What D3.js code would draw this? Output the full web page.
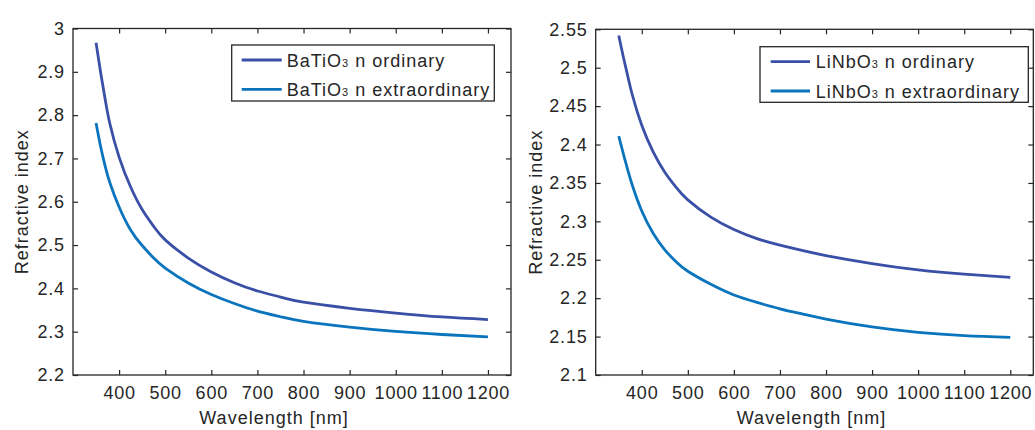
<!DOCTYPE html>
<html>
<head>
<meta charset="utf-8">
<script src="https://cdn.jsdelivr.net/npm/d3@7"></script>
<style>
  html, body { margin: 0; padding: 0; background: #fff; }
  svg { display: block; font-family: "Liberation Sans", Arial, Helvetica, sans-serif; }
  .axis text { font-size: 18px; fill: #262626; letter-spacing: 0.8px; }
  .axis line { stroke: #262626; stroke-width: 1.2; }
  .axis path { display: none; }
  .title, .legend-text { letter-spacing: 1px; }
</style>
</head>
<body>
<svg id="chart" width="1035" height="430"></svg>
<script>
// Wavelengths (nm) at which the refractive indices are tabulated
const wavelengths = [350, 360, 370, 380, 400, 425, 450, 475, 500, 550, 600, 650, 700, 750, 800, 900, 1000, 1100, 1200];

// BaTiO3 refractive indices
const batioOrdinary      = [2.967, 2.898, 2.835, 2.780, 2.703, 2.634, 2.582, 2.543, 2.512, 2.470, 2.438, 2.413, 2.394, 2.380, 2.368, 2.354, 2.343, 2.334, 2.328];
const batioExtraordinary = [2.782, 2.727, 2.681, 2.644, 2.588, 2.535, 2.499, 2.470, 2.447, 2.4125, 2.386, 2.365, 2.3475, 2.3345, 2.324, 2.3105, 2.3005, 2.2935, 2.288];

// LiNbO3 refractive indices
const linboOrdinary      = [2.542, 2.514, 2.488, 2.4635, 2.425, 2.390, 2.364, 2.344, 2.328, 2.3055, 2.2895, 2.2775, 2.269, 2.2618, 2.2555, 2.245, 2.2368, 2.2312, 2.227];
const linboExtraordinary = [2.411, 2.388, 2.366, 2.346, 2.3135, 2.2843, 2.263, 2.247, 2.235, 2.218, 2.2042, 2.1945, 2.1862, 2.1792, 2.1728, 2.1625, 2.1555, 2.1513, 2.149];

// Axis ticks
const xTicks = [400, 500, 600, 700, 800, 900, 1000, 1100, 1200];
const yTicksBaTiO = [2.2, 2.3, 2.4, 2.5, 2.6, 2.7, 2.8, 2.9, 3];
const yTickLabelsBaTiO = ["2.2", "2.3", "2.4", "2.5", "2.6", "2.7", "2.8", "2.9", "3"];
const yTicksLiNbO = [2.1, 2.15, 2.2, 2.25, 2.3, 2.35, 2.4, 2.45, 2.5, 2.55];
const yTickLabelsLiNbO = ["2.1", "2.15", "2.2", "2.25", "2.3", "2.35", "2.4", "2.45", "2.5", "2.55"];

const colorOrdinary = "#3a4fa6";
const colorExtra = "#0a74bd";
const ink = "#262626";

const svg = d3.select("#chart");

function drawPanel(cfg) {
  const { left, right, top, bottom, yDomain, yTicks, yLabels, ord, ext, material,
          legend, xTitleX, yTitleX } = cfg;

  const x = d3.scaleLinear().domain([300, 1250]).range([left, right]);
  const y = d3.scaleLinear().domain(yDomain).range([bottom, top]);
  const g = svg.append("g");

  // Dispersion curves
  const line = d3.line().x(d => x(d[0])).y(d => y(d[1])).curve(d3.curveNatural);
  [[ord, colorOrdinary], [ext, colorExtra]].forEach(([vals, col]) => {
    g.append("path")
      .datum(wavelengths.map((w, i) => [w, vals[i]]))
      .attr("fill", "none")
      .attr("stroke", col)
      .attr("stroke-width", 2.8)
      .attr("d", line);
  });

  // Axes with inward ticks on all four sides
  const labelFmt = v => yLabels[yTicks.indexOf(v)];
  g.append("g").attr("class", "axis").attr("transform", `translate(0,${bottom})`)
    .call(d3.axisBottom(x).tickValues(xTicks).tickSize(-5).tickSizeOuter(0).tickPadding(11.5).tickFormat(d3.format("d")));
  g.append("g").attr("class", "axis").attr("transform", `translate(0,${top})`)
    .call(d3.axisTop(x).tickValues(xTicks).tickSize(-5).tickSizeOuter(0).tickFormat(""));
  g.append("g").attr("class", "axis").attr("transform", `translate(${left},0)`)
    .call(d3.axisLeft(y).tickValues(yTicks).tickSize(-5).tickSizeOuter(0).tickPadding(8.2).tickFormat(labelFmt));
  g.append("g").attr("class", "axis").attr("transform", `translate(${right},0)`)
    .call(d3.axisRight(y).tickValues(yTicks).tickSize(-5).tickSizeOuter(0).tickFormat(""));

  // Plot box
  g.append("rect")
    .attr("x", left).attr("y", top)
    .attr("width", right - left).attr("height", bottom - top)
    .attr("fill", "none").attr("stroke", ink).attr("stroke-width", 1.3);

  // Axis titles
  g.append("text").attr("class", "title")
    .attr("x", xTitleX).attr("y", 423.5)
    .attr("text-anchor", "middle")
    .attr("font-size", 18).attr("fill", ink)
    .text("Wavelength [nm]");
  g.append("text").attr("class", "title")
    .attr("transform", `translate(${yTitleX},${(top + bottom) / 2}) rotate(-90)`)
    .attr("text-anchor", "middle")
    .attr("font-size", 18).attr("fill", ink)
    .text("Refractive index");

  // Legend
  const lg = g.append("g");
  lg.append("rect")
    .attr("x", legend.x0).attr("y", legend.y0)
    .attr("width", legend.x1 - legend.x0).attr("height", legend.y1 - legend.y0)
    .attr("fill", "#fff").attr("stroke", ink).attr("stroke-width", 1.3);
  [["n ordinary", colorOrdinary, legend.row1], ["n extraordinary", colorExtra, legend.row2]].forEach(([label, col, ry]) => {
    lg.append("line")
      .attr("x1", legend.lineX0).attr("x2", legend.lineX1)
      .attr("y1", ry).attr("y2", ry)
      .attr("stroke", col).attr("stroke-width", 2.8);
    const t = lg.append("text").attr("class", "legend-text")
      .attr("x", legend.textX).attr("y", ry + 6.5)
      .attr("font-size", 18).attr("fill", ink);
    t.append("tspan").text(material);
    t.append("tspan").attr("font-size", 11).text("3");
    t.append("tspan").text(" " + label);
  });
}

drawPanel({
  left: 73, right: 511, top: 28.5, bottom: 375,
  yDomain: [2.2, 3], yTicks: yTicksBaTiO, yLabels: yTickLabelsBaTiO,
  ord: batioOrdinary, ext: batioExtraordinary, material: "BaTiO",
  legend: { x0: 231.7, x1: 494.3, y0: 45, y1: 101, lineX0: 241.7, lineX1: 281.7, textX: 286.7, row1: 60, row2: 89.3 },
  xTitleX: 274, yTitleX: 28
});

drawPanel({
  left: 595.7, right: 1033.3, top: 29.3, bottom: 375,
  yDomain: [2.1, 2.55], yTicks: yTicksLiNbO, yLabels: yTickLabelsLiNbO,
  ord: linboOrdinary, ext: linboExtraordinary, material: "LiNbO",
  legend: { x0: 760, x1: 1028.3, y0: 46.7, y1: 102.3, lineX0: 770.7, lineX1: 810, textX: 815.7, row1: 61.7, row2: 91 },
  xTitleX: 811.5, yTitleX: 542
});
</script>
</body>
</html>
